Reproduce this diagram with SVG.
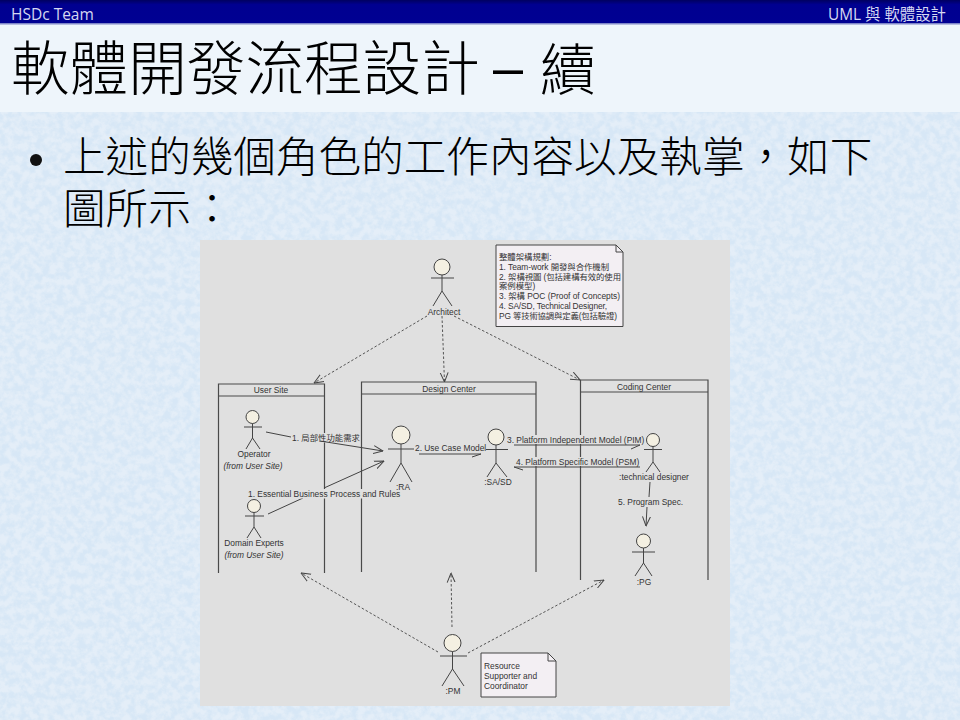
<svg xmlns="http://www.w3.org/2000/svg" width="960" height="720" viewBox="0 0 960 720">
<style>
.cjk{font-family:"Noto Sans CJK TC","Noto Sans CJK SC",sans-serif}
.u{font-family:"Liberation Sans","Noto Sans CJK TC",sans-serif;font-size:8.4px;fill:#333}
.c{text-anchor:middle}
.i{font-style:italic}
.ln{fill:none;stroke:#444;stroke-width:1}
.fr{fill:none;stroke:#4a4a4a;stroke-width:1.2}
.ah{fill:#f4f0e2;stroke:#444;stroke-width:1}
.d{fill:none;stroke:#555;stroke-width:1;stroke-dasharray:2.5 2}
.nt{fill:#f3eff3;stroke:#444;stroke-width:1}
.bg{fill:#e0e0e0}
</style>
<defs>
<linearGradient id="hd" x1="0" y1="0" x2="0" y2="1"><stop offset="0" stop-color="#000060"/><stop offset=".2" stop-color="#000090"/><stop offset="1" stop-color="#000092"/></linearGradient>
<filter id="tex" x="0" y="0" width="100%" height="100%"><feTurbulence type="fractalNoise" baseFrequency="0.14" numOctaves="4" seed="7"/><feColorMatrix type="matrix" values="0 0 0 0 .68  0 0 0 0 .80  0 0 0 0 .92  3 0 0 0 -1.02"/></filter>
<marker id="op" viewBox="0 0 10 10" refX="9.5" refY="5" markerWidth="10" markerHeight="10" orient="auto" markerUnits="userSpaceOnUse"><path d="M0 1L9.5 5L0 9" fill="none" stroke="#444" stroke-width="1"/></marker>
</defs>
<rect width="960" height="720" fill="#e4eef8"/>
<rect width="960" height="720" filter="url(#tex)"/>
<rect y="24" width="960" height="88" fill="#eef5fb"/>
<rect width="960" height="23" fill="url(#hd)"/>
<rect y="23" width="960" height="1.500" fill="#7f86c8"/>
<text x="11" y="20" font-family="'Open Sans',sans-serif" font-size="15.500" fill="#d5d8f2">HSDc Team</text>
<text x="946" y="19.500" text-anchor="end" font-family="'Open Sans','Noto Sans CJK TC',sans-serif" font-size="15.400" fill="#d5d8f2">UML 與 軟體設計</text>
<g class="cjk" fill="#000" font-weight="300">
<text x="11" y="90" font-size="58.600">軟體開發流程設計</text>
<text x="493" y="86" font-size="54" font-family="'Liberation Sans',sans-serif" font-weight="400">–</text>
<text x="540" y="90" font-size="56">續</text>
<text x="63" y="172" font-size="42.600">上述的幾個角色的工作內容以及執掌，如下</text>
<text x="63" y="224" font-size="42.600">圖所示：</text>
</g>
<circle cx="36" cy="160" r="6" fill="#111"/>
<rect id="panel" x="200" y="240" width="530" height="466" fill="#e0e0e0"/>
<g id="frames">
<g id="user-site"><path class="fr" d="M218.500 573V384H324.500V573M218.500 396H324.500"/><text class="u c" x="271" y="393">User Site</text></g>
<g id="design-center"><path class="fr" d="M361.500 572V382H536V572M361.500 394H536"/><text class="u c" x="449" y="392">Design Center</text></g>
<g id="coding-center"><path class="fr" d="M580.500 580V380H708V580M580.500 392H708"/><text class="u c" x="644" y="390">Coding Center</text></g>
</g>
<g id="connectors">
<path class="d" d="M427 316L314 383" marker-end="url(#op)"/>
<path class="d" d="M442 316L444.500 382" marker-end="url(#op)"/>
<path class="d" d="M454 316L580 380" marker-end="url(#op)"/>
<path class="ln" d="M268 514L303 498"/>
<path class="ln" d="M324 488L384 461" marker-end="url(#op)"/>
<path class="ln" d="M419 454H481L472 457"/>
<path class="d" d="M438 652L301 573" marker-end="url(#op)"/>
<path class="d" d="M452 627L451 573" marker-end="url(#op)"/>
<path class="d" d="M468 653L604 580" marker-end="url(#op)"/>
<rect class="bg" x="247" y="489" width="153" height="9.500"/>
<rect class="bg" x="291" y="433" width="68" height="9.500"/>
<rect class="bg" x="506" y="435" width="137" height="9"/>
<rect class="bg" x="515" y="457" width="125" height="9"/>
<path class="ln" d="M266 432L291 437"/>
<path class="ln" d="M320 441L383 451" marker-end="url(#op)"/>
<path class="ln" d="M514 445H640L631 449"/>
<path class="ln" d="M640 467H514L523 470"/>
<path class="ln" d="M650 482L649 497"/>
<path class="ln" d="M647 507L646 526" marker-end="url(#op)"/>
<text class="u" x="292" y="441">1. 局部性功能需求</text>
<text class="u" x="415" y="451">2. Use Case Model</text>
<text class="u" x="507" y="443">3. Platform Independent Model (PIM)</text>
<text class="u" x="516" y="465">4. Platform Specific Model (PSM)</text>
<text class="u" x="248" y="497">1. Essential Business Process and Rules</text>
<text class="u" x="618" y="505">5. Program Spec.</text>
</g>
<g id="architect"><circle class="ah" cx="442" cy="267" r="8"/><path class="ln" d="M442 275V291M431 278H454M433 306L442 291L452 306"/><text class="u c" x="444" y="315">Architect</text></g>
<g id="operator"><circle class="ah" cx="252.500" cy="417" r="6.500"/><path class="ln" d="M252.500 423.500V438M244 427H262M246 449L252.500 438L260 449"/><text class="u c" x="254" y="457">Operator</text><text class="u c i" x="253" y="469">(from User Site)</text></g>
<g id="domain-experts"><circle class="ah" cx="254" cy="506" r="6.500"/><path class="ln" d="M254 512.500V527M245 516H264M247 538L254 527L261 538"/><text class="u c" x="254" y="546">Domain Experts</text><text class="u c i" x="254" y="558">(from User Site)</text></g>
<g id="ra"><circle class="ah" cx="401" cy="435" r="9"/><path class="ln" d="M401 444V463M388 449H414M390 482L401 463L412 482"/><text class="u c" x="403" y="490">:RA</text></g>
<g id="sasd"><circle class="ah" cx="496" cy="437" r="8"/><path class="ln" d="M496 445V463M486 449.500H508M487 477L496 463L507 477"/><text class="u c" x="498" y="485">:SA/SD</text></g>
<g id="technical-designer"><circle class="ah" cx="653" cy="440" r="6.500"/><path class="ln" d="M653 446.500V462M644 449.500H662M646 472L653 462L660 472"/><text class="u c" x="654" y="480">:technical designer</text></g>
<g id="pg"><circle class="ah" cx="643.500" cy="541" r="7"/><path class="ln" d="M643.500 548V563M632 552H655M635 576L643.500 563L652 576"/><text class="u c" x="644" y="585">:PG</text></g>
<g id="pm"><circle class="ah" cx="452.500" cy="643" r="8.500"/><path class="ln" d="M452.500 651.500V669M440 656H467M442 686L452.500 669L464 686"/><text class="u c" x="453" y="694">:PM</text></g>
<g id="note-architect"><path class="nt" d="M496 245H616L623 252V326.500H496Z"/><path class="ln" d="M616 245V252H623"/>
<text class="u" x="499" y="260">整體架構規劃:</text><text class="u" x="499" y="270" textLength="110">1. Team-work 開發與合作機制</text><text class="u" x="499" y="280" textLength="122">2. 架構視圖 (包括建構有效的使用</text><text class="u" x="499" y="289">案例模型)</text><text class="u" x="499" y="299" textLength="121">3. 架構 POC (Proof of Concepts)</text><text class="u" x="499" y="309" textLength="108">4. SA/SD, Technical Designer,</text><text class="u" x="499" y="319" textLength="118">PG 等技術協調與定義(包括驗證)</text></g>
<g id="note-pm"><path class="nt" d="M481 653H548L556 661V697H481Z"/><path class="ln" d="M548 653V661H556"/>
<text class="u" x="484" y="669">Resource</text><text class="u" x="484" y="679">Supporter and</text><text class="u" x="484" y="689">Coordinator</text></g>
</svg>
